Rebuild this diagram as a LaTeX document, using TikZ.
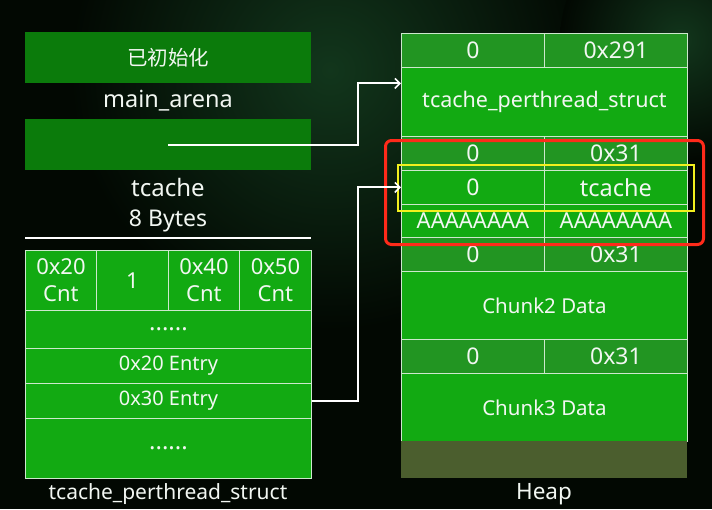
\documentclass[tikz,border=0pt]{standalone}
\usepackage{fontspec}
\setmainfont{Noto Sans}
\newfontfamily\cjk{Noto Sans CJK SC}
\usetikzlibrary{arrows.meta,calc}
\definecolor{bgc}{HTML}{020802}
\definecolor{bgglow}{HTML}{12361C}
\definecolor{gbright}{HTML}{12AA12}
\definecolor{ghead}{HTML}{229522}
\definecolor{gdark}{HTML}{0B7B0B}
\definecolor{olive}{HTML}{4B5E2E}
\definecolor{linec}{HTML}{CDE8CD}
\definecolor{txtc}{HTML}{F2F7F2}
\definecolor{redc}{HTML}{FF2A1A}
\definecolor{yelc}{HTML}{F2F01E}
\newcommand\cellbox[8]{\node[cellst, fill=#6, minimum width=#4pt, minimum height=#5pt, font=\fontsize{#7}{27}\selectfont] (#1) at (#2,#3) {#8};}
\begin{document}
\begin{tikzpicture}[x=1pt,y=-1pt,
  cellst/.style={draw=linec, line width=0.9pt, text=txtc, anchor=north west, inner sep=0pt, align=center},
  plain/.style={fill=gdark, anchor=north west, inner sep=0pt, text=txtc},
  lbl/.style={text=txtc, inner sep=0pt},
  arr/.style={draw=white, line width=2pt, -{Straight Barb[length=5pt,width=10pt,line width=1.6pt]}},
]
\fill[bgc] (0,0) rectangle (712,509);
\useasboundingbox (0,0) rectangle (712,509);
\shade[inner color=bgglow, outer color=bgc] (330,70) circle (260);
\shade[inner color=bgglow, outer color=bgc] (680,40) circle (120);

% left top boxes
\node[plain, minimum width=286pt, minimum height=51pt, font=\cjk\fontsize{20.5}{24}\selectfont] (init) at (25,32) {已初始化};
\node[lbl, font=\fontsize{23.5}{26}\selectfont] (arenalbl) at (168,101) {main\_arena};
\node[plain, minimum width=286pt, minimum height=51pt] (tcptr) at (25,119) {};
\node[lbl, font=\fontsize{24}{26}\selectfont] (tclbl) at (168,187) {tcache};
\node[lbl, font=\fontsize{23}{26}\selectfont] (bytes) at (168,221) {8 Bytes};
\coordinate (sepL) at (25,238);
\coordinate (sepR) at (311,238);
\draw[white, line width=2pt] (sepL) -- (sepR);

% tcache_perthread_struct table
\cellbox{c20}{25}{250}{71}{60}{gbright}{22}{0x20\\Cnt}
\cellbox{c30}{96}{250}{72}{60}{gbright}{22}{1}
\cellbox{c40}{168}{250}{71}{60}{gbright}{22}{0x40\\Cnt}
\cellbox{c50}{239}{250}{72}{60}{gbright}{22}{0x50\\Cnt}
\cellbox{dots1}{25}{310}{286}{38}{gbright}{24}{......}
\cellbox{e20}{25}{348}{286}{35}{gbright}{20}{0x20 Entry}
\cellbox{e30}{25}{383}{286}{35}{gbright}{20}{0x30 Entry}
\cellbox{dots2}{25}{418}{286}{60}{gbright}{24}{......}
\node[lbl, font=\fontsize{21}{24}\selectfont] (tpslbl) at (168,494) {tcache\_perthread\_struct};

% heap
\cellbox{h1a}{401}{33}{143}{34}{ghead}{23}{0}
\cellbox{h1b}{544}{33}{143}{34}{ghead}{23}{0x291}
\cellbox{hps}{401}{67}{286}{69}{gbright}{21.5}{tcache\_perthread\_struct}
\cellbox{h2a}{401}{136}{143}{34}{ghead}{23}{0}
\cellbox{h2b}{544}{136}{143}{34}{ghead}{23}{0x31}
\cellbox{h3a}{401}{170}{143}{34}{gbright}{23}{0}
\cellbox{h3b}{544}{170}{143}{34}{gbright}{23.5}{tcache}
\cellbox{h4a}{401}{204}{143}{33}{gbright}{22}{AAAAAAAA}
\cellbox{h4b}{544}{204}{143}{33}{gbright}{22}{AAAAAAAA}
\cellbox{h5a}{401}{237}{143}{34}{ghead}{23}{0}
\cellbox{h5b}{544}{237}{143}{34}{ghead}{23}{0x31}
\cellbox{hc2}{401}{271}{286}{68}{gbright}{20.5}{Chunk2 Data}
\cellbox{h6a}{401}{339}{143}{34}{ghead}{23}{0}
\cellbox{h6b}{544}{339}{143}{34}{ghead}{23}{0x31}
\cellbox{hc3}{401}{373}{286}{68}{gbright}{20.5}{Chunk3 Data}
\node[plain, fill=olive, minimum width=286pt, minimum height=37pt] (htop) at (401,441) {};
\node[lbl, font=\fontsize{22.5}{26}\selectfont] (heaplbl) at (544,494) {Heap};

% highlight boxes
\node[draw=redc, line width=3pt, rounded corners=6pt, minimum width=318pt, minimum height=104pt, anchor=north west, inner sep=0pt] (redbox) at (384,139) {};
\node[draw=yelc, line width=2pt, minimum width=296pt, minimum height=46pt, anchor=north west, inner sep=0pt] (yelbox) at (397,164) {};

% connectors
\draw[arr] (tcptr.center) -- ++(190,0) |- ([yshift=18.5pt]hps.west);
\draw[arr] (e30.east) -- ++(46,0) |- (h3a.west);
\end{tikzpicture}
\end{document}
